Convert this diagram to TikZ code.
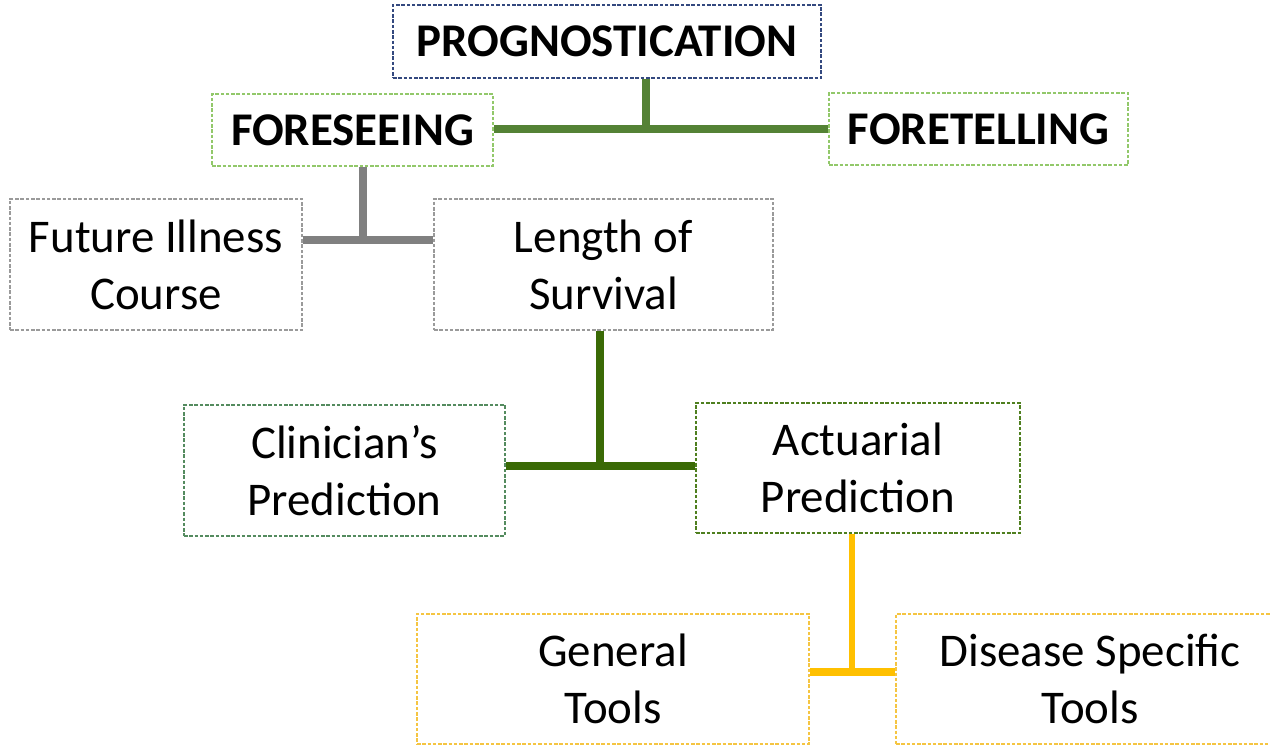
\documentclass[tikz,border=0pt]{standalone}
\usepackage{fontspec}
\setmainfont{Carlito}
\definecolor{progc}{HTML}{34497F}
\definecolor{lgreen}{HTML}{92C86A}
\definecolor{mgreen}{HTML}{548235}
\definecolor{grayc}{HTML}{808080}
\definecolor{grayb}{HTML}{9A9A9A}
\definecolor{dgreen}{HTML}{3A6A06}
\definecolor{clinb}{HTML}{548B5F}
\definecolor{actb}{HTML}{4F7F1F}
\definecolor{yel}{HTML}{FFC000}
\definecolor{yelb}{HTML}{F5C542}
\begin{document}
\begin{tikzpicture}[x=0.02cm,y=-0.02cm,
  box/.style={draw, line width=0.6pt, dash pattern=on 2pt off 1pt, fill=white,
    align=center, inner sep=0pt, font=\fontsize{26.7}{32.3}\selectfont},
  boldbox/.style={box, font=\fontsize{26.7}{32.3}\selectfont\bfseries},
  conn/.style={line width=4.5pt}]
\useasboundingbox (0,0) rectangle (1270,745);
\node[boldbox, draw=progc, minimum width=428*0.02cm, minimum height=73*0.02cm] (prog) at (607,41.5) {PROGNOSTICATION};
\node[boldbox, draw=lgreen, minimum width=281*0.02cm, minimum height=72*0.02cm] (fsee) at (352.5,130) {FORESEEING};
\node[boldbox, draw=lgreen, minimum width=299*0.02cm, minimum height=72*0.02cm] (ftell) at (978.5,129) {FORETELLING};
\node[box, draw=grayb, minimum width=292*0.02cm, minimum height=131*0.02cm] (future) at (156,264.5) {Future Illness\\Course};
\node[box, draw=grayb, minimum width=339*0.02cm, minimum height=131*0.02cm] (length) at (603.5,264.5) {Length of\\Survival};
\node[box, draw=clinb, minimum width=321*0.02cm, minimum height=131*0.02cm] (clin) at (344.5,470.5) {Clinician’s\\Prediction};
\node[box, draw=actb, minimum width=324*0.02cm, minimum height=130*0.02cm] (act) at (858,468) {Actuarial\\Prediction};
\node[box, draw=yelb, minimum width=392*0.02cm, minimum height=130*0.02cm] (gen) at (613,679) {General\\Tools};
\node[box, draw=yelb, minimum width=388*0.02cm, minimum height=130*0.02cm] (dis) at (1090,679) {Disease Specific\\Tools};
% connectors
\coordinate (j1) at (646,129);
\draw[conn, mgreen] (fsee.east |- j1) -- (ftell.west |- j1);
\draw[conn, mgreen] (prog.south -| j1) -- (j1);
\coordinate (j2) at (363,240);
\draw[conn, grayc] (future.east |- j2) -- (length.west |- j2);
\draw[conn, grayc] (fsee.south -| j2) -- (j2);
\coordinate (j3) at (600,466);
\draw[conn, dgreen] (clin.east |- j3) -- (act.west |- j3);
\draw[conn, dgreen] (length.south -| j3) -- (j3);
\coordinate (j4) at (852,672);
\draw[conn, yel] (gen.east |- j4) -- (dis.west |- j4);
\draw[line width=3.4pt, yel] (act.south -| j4) -- (j4);
\end{tikzpicture}
\end{document}
